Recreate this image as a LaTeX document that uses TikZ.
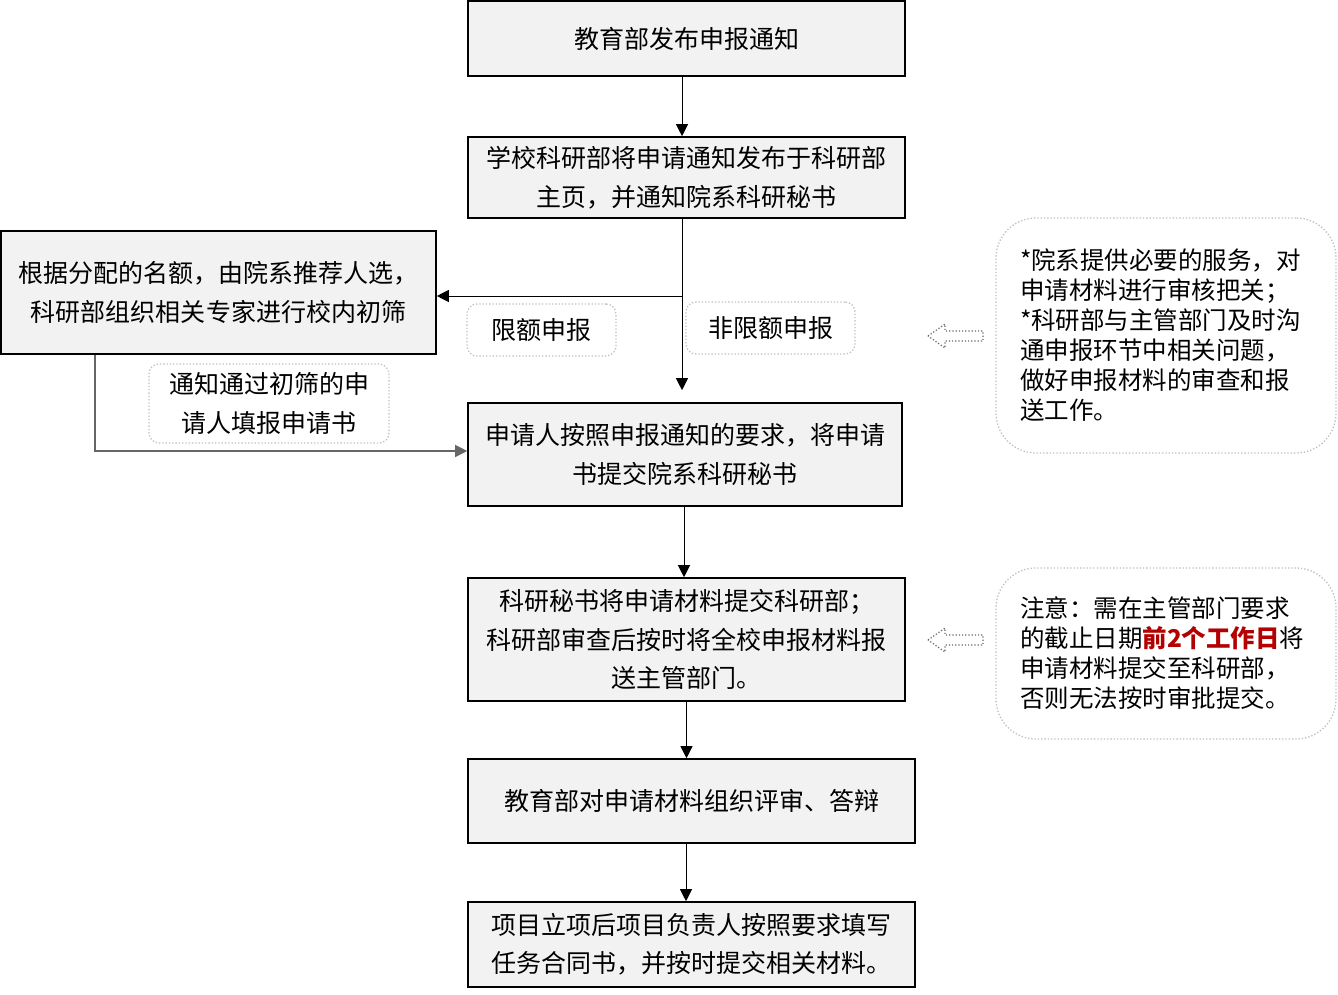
\documentclass[tikz,border=0pt]{standalone}
\usepackage{fontspec}
\newfontfamily\cjk{Noto Sans CJK SC}
\usetikzlibrary{arrows.meta}
\definecolor{boxgray}{HTML}{F2F2F2}
\definecolor{dotgray}{HTML}{BFBFBF}
\definecolor{darkred}{HTML}{B40000}
\tikzset{
  box/.style={draw=black, line width=1.6pt, fill=boxgray, align=center, inner sep=0pt,
    font=\cjk\fontsize{25}{38.5}\selectfont},
  lbl/.style={draw=dotgray, dotted, line width=1.3pt, rounded corners=10pt, fill=white, align=center, inner sep=0pt,
    font=\cjk\fontsize{25}{38.5}\selectfont},
  note/.style={draw=dotgray, dotted, line width=1.3pt, rounded corners=40pt, fill=white, align=left, inner sep=0pt,
    text width=292pt, font=\cjk\fontsize{24.5}{30}\selectfont},
  conn/.style={draw=black, line width=1pt, -{Triangle[length=12pt,width=12pt]}},
  conng/.style={draw=black!60, line width=1.2pt, -{Triangle[length=12pt,width=12pt]}},
  hollow/.style={draw=black!60, dotted, line width=1.2pt},
}
\begin{document}
\begin{tikzpicture}[x=1pt,y=-1pt]
\useasboundingbox (0,0) rectangle (1338,995);
\fill[white] (0,0) rectangle (1338,995);
% main boxes
\node[box, minimum width=437pt, minimum height=75pt] (b1) at (686.5,38.5) {教育部发布申报通知};
\node[box, minimum width=437pt, minimum height=81pt] (b2) at (686.5,177.5) {学校科研部将申请通知发布于科研部\\主页，并通知院系科研秘书};
\node[box, minimum width=435pt, minimum height=123pt] (b3) at (218.5,292.5) {根据分配的名额，由院系推荐人选，\\ 科研部组织相关专家进行校内初筛};
\node[box, minimum width=434pt, minimum height=103pt] (b4) at (685,454.5) {申请人按照申报通知的要求，将申请\\书提交院系科研秘书};
\node[box, minimum width=437pt, minimum height=123pt] (b5) at (686.5,639.5) {科研秘书将申请材料提交科研部；\\科研部审查后按时将全校申报材料报\\送主管部门。};
\node[box, minimum width=447pt, minimum height=84pt] (b6) at (691.5,801) {教育部对申请材料组织评审、答辩};
\node[box, minimum width=447pt, minimum height=85pt] (b7) at (691.5,944.5) {项目立项后项目负责人按照要求填写\\任务合同书，并按时提交相关材料。};
% labels
\node[lbl, minimum width=149pt, minimum height=52pt] (l1) at (541.5,330) {限额申报};
\node[lbl, minimum width=169pt, minimum height=52pt] (l2) at (770.5,328) {非限额申报};
\node[lbl, minimum width=240pt, minimum height=79pt] (l3) at (269,403.5) {通知通过初筛的申\\请人填报申请书};
% notes
\node[note, minimum width=340pt, minimum height=235pt] (n1) at (1166,335.5) {{*}院系提供必要的服务，对\\申请材料进行审核把关；\\{*}科研部与主管部门及时沟\\通申报环节中相关问题，\\做好申报材料的审查和报\\送工作。};
\node[note, minimum width=340pt, minimum height=171pt] (n2) at (1166,653.5) {注意：需在主管部门要求\\的截止日期{\color{darkred}\bfseries 前2个工作日}将\\申请材料提交至科研部，\\否则无法按时审批提交。};
% hollow dotted arrows
\draw[hollow] (928,336) -- (945,324) -- (945,331) -- (983,331) -- (983,341) -- (945,341) -- (945,348) -- cycle;
\draw[hollow] (928,640) -- (945,628) -- (945,635) -- (983,635) -- (983,645) -- (945,645) -- (945,652) -- cycle;
% connectors
\coordinate (j) at (682,296);
\coordinate (k) at (95,451);
\draw[conn] ([xshift=-4.5pt]b1.south) -- ([xshift=-4.5pt]b1.south |- b2.north);
\draw[conn, shorten >=12pt] ([xshift=-4.5pt]b2.south) -- ([xshift=-4.5pt]b2.south |- b4.north);
\draw[conn] (j) -- (j -| b3.east);
\draw[conng] (b3.south -| k) -- (k) -- (k -| b4.west);
\draw[conn] ([xshift=-1pt]b4.south) -- ([xshift=-1pt]b4.south |- b5.north);
\draw[conn] (b5.south) -- (b5.south |- b6.north);
\draw[conn] ([xshift=-5.5pt]b6.south) -- ([xshift=-5.5pt]b6.south |- b7.north);
\end{tikzpicture}
\end{document}
